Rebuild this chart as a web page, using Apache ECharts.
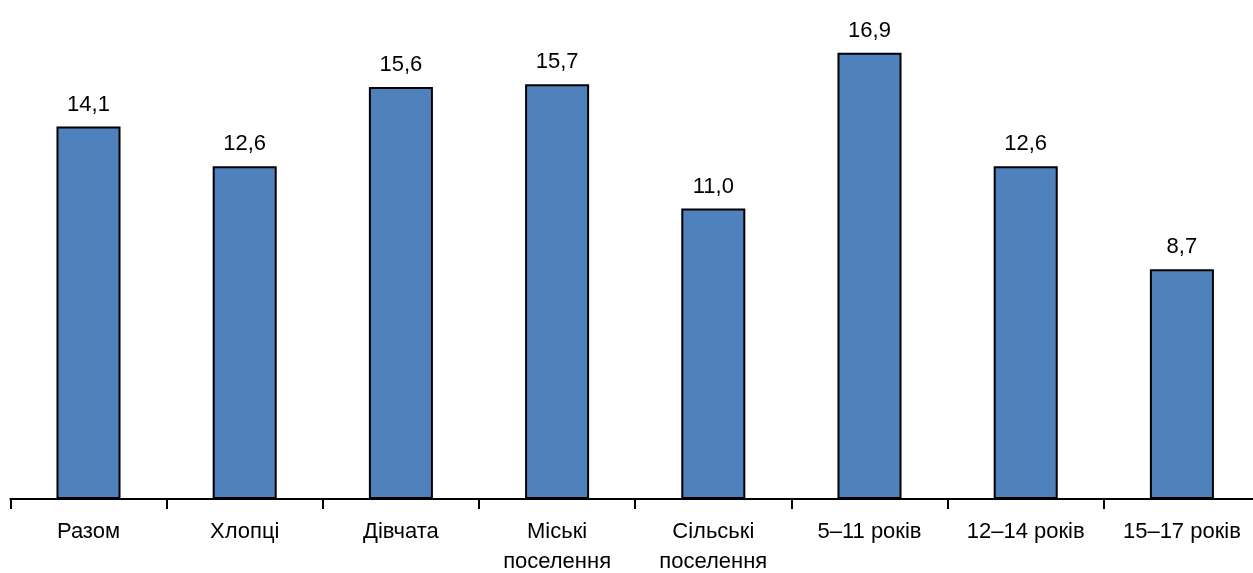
<!DOCTYPE html>
<html><head><meta charset="utf-8">
<script src="https://cdn.jsdelivr.net/npm/echarts@6/dist/echarts.min.js"></script>
<style>html,body{margin:0;padding:0;background:#fff}#c{width:1253px;height:573px}</style>
</head><body><div id="c"></div>
<script>
const categories = ['Разом','Хлопці','Дівчата','Міські\nпоселення','Сільські\nпоселення','5–11 років','12–14 років','15–17 років'];
const values = [14.1, 12.6, 15.6, 15.7, 11.0, 16.9, 12.6, 8.7];

const FONT = '"Liberation Sans", Arial, sans-serif';
const chart = echarts.init(document.getElementById('c'), null, {renderer:'canvas'});
chart.setOption({
  animation:false,
  grid:{left:10.4, width:1249.6, top:23.6, height:475.4, containLabel:false, outerBoundsMode:'none'},
  xAxis:{type:'category', data:categories, boundaryGap:true,
    axisLine:{lineStyle:{color:'#000', width:2}},
    axisTick:{show:true, interval:0, length:10, lineStyle:{color:'#000', width:2}},
    axisLabel:{interval:0, margin:18, color:'#000', fontFamily:FONT, fontSize:22, lineHeight:30}
  },
  yAxis:{type:'value', min:0, max:18, show:false, splitLine:{show:false}},
  series:[{type:'bar', data:values, barWidth:'41%',
    itemStyle:{color:'#4F81BD', borderColor:'#000', borderWidth:2},
    label:{show:true, position:'top', distance:11, color:'#000', fontFamily:FONT, fontSize:22,
      formatter:p=>p.value.toFixed(1).replace('.',',')}
  }]
});
</script></body></html>
